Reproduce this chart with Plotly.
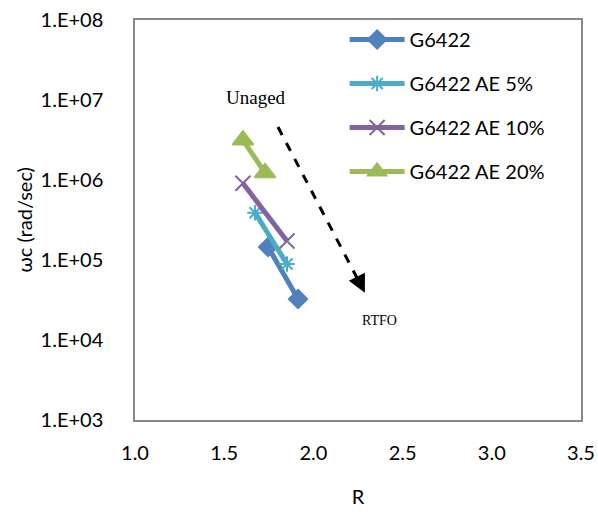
import plotly.graph_objects as go

series_names = ["G6422", "G6422 AE 5%", "G6422 AE 10%", "G6422 AE 20%"]
r_values = [
    [1.746, 1.914],
    [1.673, 1.852],
    [1.605, 1.852],
    [1.605, 1.729],
]
wc_values = [
    [1.45e5, 3.25e4],
    [3.9e5, 8.9e4],
    [9.1e5, 1.73e5],
    [3.16e6, 1.23e6],
]
colors = ["#4F81BD", "#4BACC6", "#8064A2", "#9BBB59"]
symbols = ["diamond", "asterisk-open", "x-thin-open", "triangle-up"]
msizes = [14, 13, 15, 18]

y_tickvals = [1e3, 1e4, 1e5, 1e6, 1e7, 1e8]
y_ticktext = ["1.E+03", "1.E+04", "1.E+05", "1.E+06", "1.E+07", "1.E+08"]
x_tickvals = [1.0, 1.5, 2.0, 2.5, 3.0, 3.5]
x_ticktext = ["1.0", "1.5", "2.0", "2.5", "3.0", "3.5"]

FONT = "Lato, 'Open Sans', sans-serif"
SERIF = "'Liberation Serif', 'DejaVu Serif', serif"

fig = go.Figure()
for i, name in enumerate(series_names):
    fig.add_trace(go.Scatter(
        x=r_values[i], y=wc_values[i], name=name, mode="lines+markers",
        legendgroup=name,
        line=dict(color=colors[i], width=5),
        marker=dict(symbol=symbols[i], size=msizes[i], color=colors[i],
                    line=dict(color=colors[i], width=2)),
    ))

# dashed arrow
fig.add_shape(type="line", xref="paper", yref="paper",
              x0=0.3206, y0=0.7325, x1=0.505, y1=0.34,
              line=dict(color="black", width=3, dash="dash"))
fig.add_annotation(xref="paper", yref="paper", x=0.5155, y=0.318,
                   ax=-8, ay=-16, showarrow=True, arrowhead=2, arrowsize=1.2,
                   arrowwidth=3, arrowcolor="black", text="")
fig.add_annotation(xref="paper", yref="paper", x=0.271, y=0.8075,
                   xanchor="center", yanchor="middle",
                   text="Unaged", showarrow=False,
                   font=dict(family=SERIF, size=19, color="black"))
fig.add_annotation(xref="paper", yref="paper", x=0.549, y=0.25,
                   xanchor="center", yanchor="middle",
                   text="RTFO", showarrow=False,
                   font=dict(family=SERIF, size=14, color="black"))
# y-axis title
fig.add_annotation(xref="paper", yref="paper", x=-0.25, y=0.5,
                   xanchor="center", yanchor="middle", textangle=-90,
                   text="ωc (rad/sec)", showarrow=False,
                   font=dict(family=FONT, size=20, color="black"))

fig.update_layout(
    width=598, height=512,
    margin=dict(l=135, r=17, t=20, b=92),
    paper_bgcolor="white", plot_bgcolor="white",
    font=dict(family=FONT, size=20, color="black"),
    showlegend=True,
    legend=dict(x=0.47, y=1.0, xanchor="left", yanchor="top",
                bgcolor="rgba(0,0,0,0)", tracegroupgap=15, itemwidth=55,
                font=dict(family=FONT, size=20, color="black")),
    xaxis=dict(range=[1.0, 3.5], tickvals=x_tickvals, ticktext=x_ticktext,
               showgrid=False, zeroline=False, showline=True, mirror=True,
               linecolor="#868686", linewidth=1.5, ticks="", automargin=False,
               ticklabelstandoff=14,
               title=dict(text="R", font=dict(family=FONT, size=20), standoff=27)),
    yaxis=dict(type="log", range=[3, 8], tickvals=y_tickvals, ticktext=y_ticktext,
               showgrid=False, zeroline=False, showline=True, mirror=True,
               linecolor="#868686", linewidth=1.5, ticks="", automargin=False,
               ticklabelstandoff=26),
)

fig.write_html("out.html")
